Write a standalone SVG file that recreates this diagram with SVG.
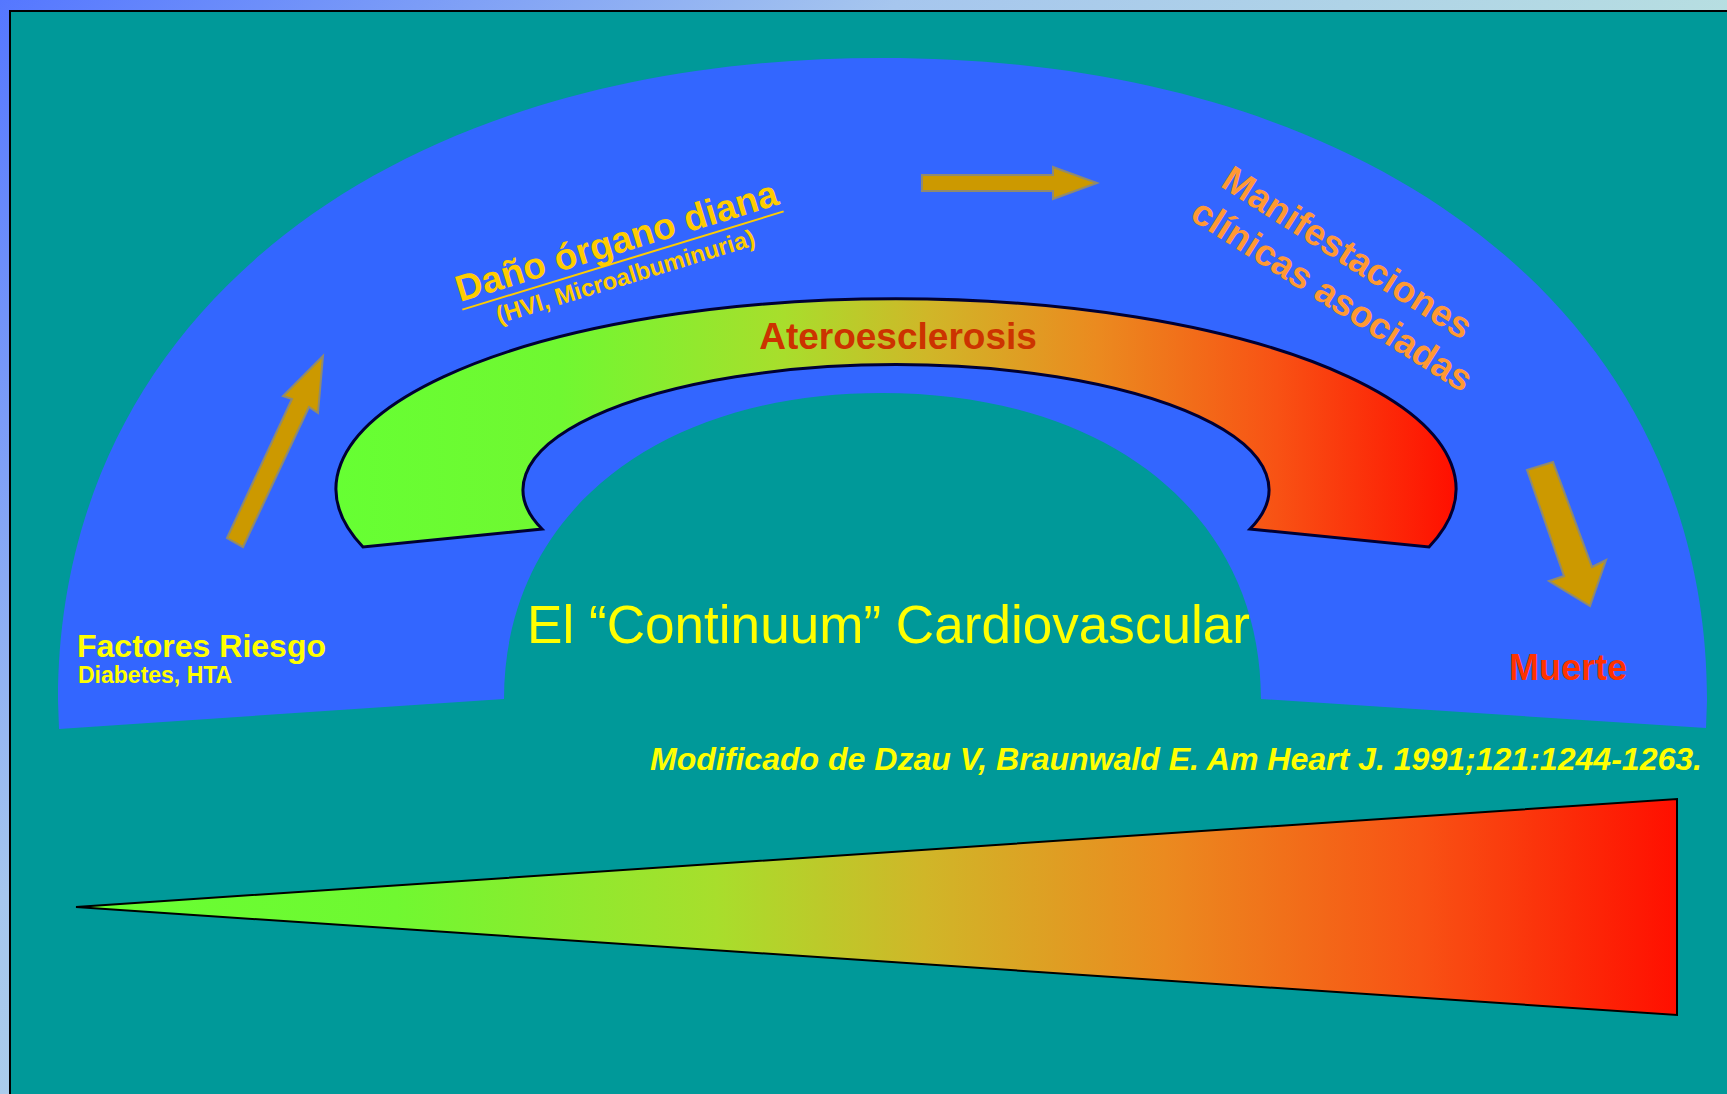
<svg xmlns="http://www.w3.org/2000/svg" width="1727" height="1094" viewBox="0 0 1727 1094">
  <defs>
    <linearGradient id="bgGrad" gradientUnits="userSpaceOnUse" x1="0" y1="0" x2="900" y2="900">
      <stop offset="0" stop-color="#5577ff"/>
      <stop offset="0.5" stop-color="#a6c6ee"/>
      <stop offset="1" stop-color="#b8e0e0"/>
    </linearGradient>
    <linearGradient id="heat" x1="0" y1="0" x2="1" y2="0">
      <stop offset="0" stop-color="#66ff33"/>
      <stop offset="0.2" stop-color="#70f831"/>
      <stop offset="0.4" stop-color="#a8de2c"/>
      <stop offset="0.53" stop-color="#d0b628"/>
      <stop offset="0.68" stop-color="#eb8a1f"/>
      <stop offset="0.84" stop-color="#f85214"/>
      <stop offset="1" stop-color="#ff0f00"/>
    </linearGradient>
    <style>
      .arrow { fill: #cc9900; stroke: #8f8a70; stroke-width: 2; }
      .b { font-family: "Liberation Sans", Arial, sans-serif; font-weight: bold; }
      .r { font-family: "Liberation Sans", Arial, sans-serif; }
    </style>
  </defs>

  <g id="background">
    <rect x="0" y="0" width="1727" height="1094" fill="url(#bgGrad)"/>
    <rect x="10" y="11" width="1730" height="1100" fill="#009999" stroke="#000000" stroke-width="2"/>
  </g>

  <g id="dome">
    <path d="M59,729 L58,700 C58,315 388,58 882,58 C1376,58 1707,315 1707,700 L1706,728 L1261,699 C1261,515 1109,393 882,393 C656,393 504,515 504,699 Z" fill="#3366ff"/>
  </g>

  <g id="node-ateroesclerosis">
    <path d="M363,547 A560,190 0 1 1 1429,547 L1250,529 A373,125 0 1 0 542,529 Z" fill="url(#heat)" stroke="#000033" stroke-width="3" stroke-linejoin="miter"/>
    <text class="b" x="898" y="349" font-size="37" fill="#cc3300" text-anchor="middle">Ateroesclerosis</text>
  </g>

  <g id="connectors">
    <polygon class="arrow" points="227,538 292,399 283,396 323,356 318,413 309,407 243,547"/>
    <polygon class="arrow" points="922,175 1053,175 1053,167 1097,183 1053,199 1053,191 922,191"/>
    <polygon class="arrow" points="1527,470 1553,462 1592,567 1606,560 1590,606 1549,581 1564,576"/>
  </g>

  <g id="node-factores">
    <text class="b" x="77" y="657" font-size="32" fill="#ffff00">Factores Riesgo</text>
    <text class="b" x="78" y="683" font-size="23" fill="#ffff00">Diabetes, HTA</text>
  </g>

  <g id="node-dano" transform="translate(460,302) rotate(-17)">
    <text class="b" x="0" y="0" font-size="37" fill="#ffcc00">Daño órgano diana</text>
    <line x1="0" y1="8" x2="336" y2="8" stroke="#ffcc00" stroke-width="2"/>
    <text class="b" x="31" y="32" font-size="24" fill="#ffcc00">(HVI, Microalbuminuria)</text>
  </g>

  <g id="node-manifestaciones" transform="translate(1345,266) rotate(32.5)">
    <text class="b" font-size="37" fill="#ff9933" text-anchor="middle">
      <tspan x="0" y="0">Manifestaciones</tspan>
      <tspan x="5" y="44">clínicas asociadas</tspan>
    </text>
  </g>

  <g id="node-muerte">
    <text class="b" x="1509" y="680" font-size="36" fill="#ff3300">Muerte</text>
  </g>

  <g id="title">
    <text class="r" x="527" y="643" font-size="53" fill="#ffff00" textLength="723" lengthAdjust="spacingAndGlyphs">El “Continuum” Cardiovascular</text>
  </g>

  <g id="citation">
    <text class="b" x="650" y="770" font-size="32" font-style="italic" fill="#ffff00" textLength="1052" lengthAdjust="spacingAndGlyphs">Modificado de Dzau V, Braunwald E. Am Heart J. 1991;121:1244-1263.</text>
  </g>

  <g id="triangle">
    <polygon points="76,907 1677,799 1677,1015" fill="url(#heat)" stroke="#000000" stroke-width="2"/>
  </g>
</svg>
